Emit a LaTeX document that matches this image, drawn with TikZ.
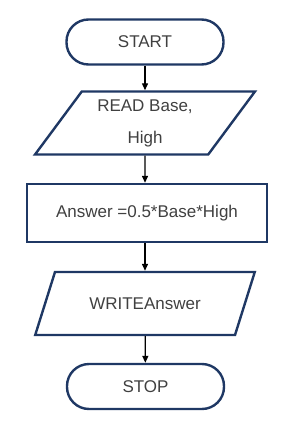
\documentclass[tikz,border=0pt]{standalone}
\usepackage{fontspec}
\setmainfont{Liberation Sans}
\usepackage{xcolor}
\usetikzlibrary{shapes.geometric}
\usetikzlibrary{arrows.meta}
\definecolor{flowblue}{RGB}{31,56,100}
\definecolor{flowtext}{RGB}{64,64,64}
\tikzset{terminal/.style = {draw=flowblue, line width=2.4pt, rectangle,
                            rounded corners=22pt, minimum width=157pt,
                            minimum height=45pt, text=flowtext,
                            font=\fontsize{17}{20}\selectfont}}
\tikzset{io/.style = {draw=flowblue, line width=2.4pt, trapezium,
                      trapezium left angle=55, trapezium right angle=125,
                      trapezium stretches=true, minimum width=220pt,
                      minimum height=63pt, text=flowtext, align=center,
                      font=\fontsize{17}{20}\selectfont}}
\tikzset{process/.style = {draw=flowblue, line width=2.4pt, rectangle,
                           minimum width=240pt, minimum height=58pt,
                           text=flowtext, font=\fontsize{17}{20}\selectfont}}
\tikzset{flow/.style = {-{Triangle[length=7pt,width=6pt]}, line width=1.3pt, black}}

\begin{document}
\begin{tikzpicture}[x=1pt,y=-1pt]
        \useasboundingbox (0,0) rectangle (287,423);
        \node[terminal] (start) at (145,42) {START};
        \node[io] (read) at (145,123) {READ Base,\\[12pt]High};
        \node[process] (calc) at (147,213) {Answer =0.5*Base*High};
        \node[io] (write) at (145,303.5) {WRITEAnswer};
        \node[terminal] (stop) at (145.5,386.5) {STOP};
        \draw[flow] (start) -- (read);
        \draw[flow] (read) -- (read |- calc.north);
        \draw[flow] (read |- calc.south) -- (read |- write.north);
        \draw[flow] (write) -- (stop);
    \end{tikzpicture}
\end{document}
